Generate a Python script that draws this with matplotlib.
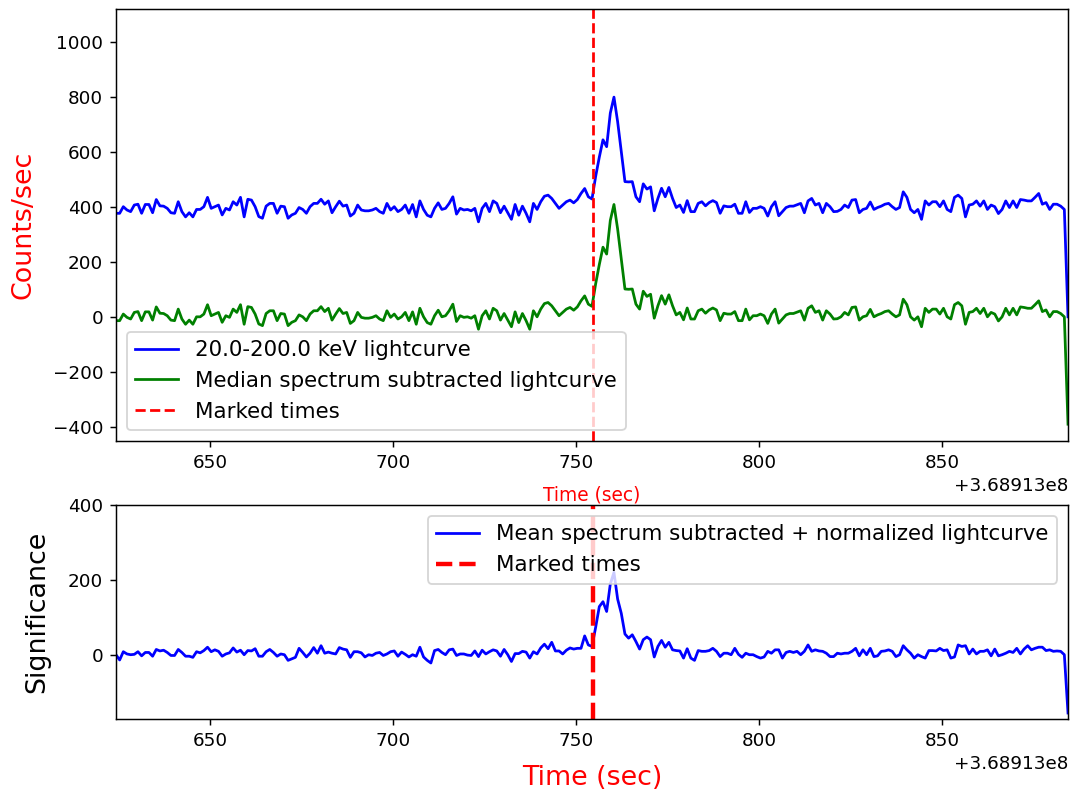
import numpy as np
import matplotlib
matplotlib.use('Agg')
import matplotlib.pyplot as plt

# Time axis: 1 s bins, absolute spacecraft time
t_start = 368913624.3
marked_time = 368913754.7

# 20.0-200.0 keV lightcurve (counts/sec)
lightcurve = [
    376, 376, 400, 388, 382, 406, 409, 376, 408, 408,
    378, 426, 403, 402, 394, 378, 376, 418, 382, 363,
    378, 363, 390, 390, 400, 434, 394, 400, 406, 370,
    394, 388, 418, 406, 434, 363, 427, 424, 400, 364,
    358, 402, 412, 412, 376, 402, 400, 358, 370, 376,
    397, 390, 376, 400, 412, 412, 427, 409, 421, 378,
    400, 420, 402, 406, 366,
    376, 406, 388, 385, 385, 388, 394, 382, 376, 412,
    388, 400, 382, 390, 406, 376, 408, 363, 421, 390,
    369, 363, 394, 414, 390, 394, 412, 436, 373, 394,
    388, 390, 385, 394, 345, 394, 412, 382, 421, 412,
    378, 402, 378, 354, 408, 369, 402, 376, 345, 412,
    390, 418, 438, 442, 430, 412, 394, 406, 418, 424,
    414, 426, 448, 466, 436, 428,
    510, 580, 643, 618, 740, 798, 709, 600, 491, 490,
    491, 436, 418, 483, 464, 472, 385, 430, 467, 436,
    470, 430, 397, 406, 379, 422, 382, 382, 412, 418,
    403, 415, 422, 415, 376, 403, 400, 400, 409, 376,
    376, 418, 379, 394, 394, 400, 394, 366, 400,
    418, 367, 382, 397, 402, 402, 407, 412, 378, 421,
    430, 406, 412, 378, 412, 400, 382, 383, 390, 406,
    397, 424, 426, 378, 390, 394, 417, 390, 397, 402,
    409, 412, 400, 390, 397, 454, 434, 390, 378, 390,
    354, 421, 406, 418, 418, 400, 421, 390, 382, 434,
    442, 430, 363, 406, 409, 421, 402, 421, 390, 406,
    400, 375, 390, 421, 397, 421, 397, 426, 424, 421,
    421, 434, 448, 409, 415, 390, 409, 409, 402, 390,
    0,
]

# Median spectrum subtracted lightcurve (counts/sec)
median_sub = [
    -14, -14, 10, -2, -8, 16, 19, -14, 18, 18,
    -12, 36, 13, 12, 4, -12, -14, 28, -8, -27,
    -12, -27, 0, 0, 10, 44, 4, 10, 16, -20,
    4, -2, 28, 16, 44, -27, 37, 34, 10, -26,
    -32, 12, 22, 22, -14, 12, 10, -32, -20, -14,
    7, 0, -14, 10, 22, 22, 37, 19, 31, -12,
    10, 30, 12, 16, -24,
    -14, 16, -2, -5, -5, -2, 4, -8, -14, 22,
    -2, 10, -8, 0, 16, -14, 18, -27, 31, 0,
    -21, -27, 4, 24, 0, 4, 22, 46, -17, 4,
    -2, 0, -5, 4, -45, 4, 22, -8, 31, 22,
    -12, 12, -12, -36, 18, -21, 12, -14, -45, 22,
    0, 28, 48, 52, 40, 22, 4, 16, 28, 34,
    24, 36, 58, 76, 46, 38,
    120, 190, 253, 228, 350, 408, 319, 210, 101, 100,
    101, 46, 28, 93, 74, 82, -5, 40, 77, 46,
    80, 40, 7, 16, -11, 32, -8, -8, 22, 28,
    13, 25, 32, 25, -14, 13, 10, 10, 19, -14,
    -14, 28, -11, 4, 4, 10, 4, -24, 10,
    28, -23, -8, 7, 12, 12, 17, 22, -12, 31,
    40, 16, 22, -12, 22, 10, -8, -7, 0, 16,
    7, 34, 36, -12, 0, 4, 27, 0, 7, 12,
    19, 22, 10, 0, 7, 64, 44, 0, -12, 0,
    -36, 31, 16, 28, 28, 10, 31, 0, -8, 44,
    52, 40, -27, 16, 19, 31, 12, 31, 0, 16,
    10, -15, 0, 31, 7, 31, 7, 36, 34, 31,
    31, 44, 58, 19, 25, 0, 19, 19, 12, 0,
    -390,
]

# Mean spectrum subtracted + normalized lightcurve (significance)
significance = [
    2, -12, 10, 4, 2, 3, 10, -1, 8, 8,
    -2, 16, 12, 14, 8, 0, 0, 16, 8, -2,
    -2, -5, 10, 7, 13, 22, 10, 15, 11, -2,
    4, 7, 20, 9, 14, 2, 13, 12, 18, -2,
    -2, 10, 16, 8, -2, 4, 2, -13, -9, -5,
    19, 8, -4, 6, 21, 6, 26, 6, 9, 6,
    4, 21, 17, 15, -5, 10, 10, 7, -4, 2,
    0, 6, 8, 0, 4, 10, 12, -2, 9, 3,
    -4, 2, -2, 22, -4, -13, -20, 13, 16, 8,
    2, 15, 17, 0, 4, 4, 1, 0, 12, -3,
    14, 4, 10, 15, 12, -2, 16, 2, -16, 5,
    5, 11, 9, -7, 10, 4, 20, 30, 18, 35,
    12, 12, 4, 14, 20, 17, 19, 19, 52, 28,
    24,
    75, 130, 143, 117, 190, 221, 150, 112, 57, 46,
    55, 37, 17, 42, 49, 42, -4, 24, 40, 22,
    35, 15, 13, 12, -7, 18, -7, -13, 13, 11,
    11, 13, 19, 11, -3, 6, 6, 2, 19, 3,
    -5, 6, 2, 2, -3, -7, -4, 11, 6, 15,
    15, -7, 8, 11, 8, 11, 2, 11, 28, 11,
    15, 12, 11, 6, -3, -3, 6, 4, 6, 6,
    11, 19, -1, 15, 2, 19, -3, -1, 11, 12,
    15, 11, -3, 2, 26, 15, 6, -7, 2, -3,
    -7, 13, 13, 12, 19, 13, 15, -7, -4, 28,
    24, 26, 4, 17, 4, 11, 11, 15, -1, 17,
    -1, 2, 6, 11, 8, 19, 4, 17, 26, 15,
    19, 22, 22, 13, 15, 11, 12, 11, 2, -153,
]

times = t_start + np.arange(len(lightcurve))

dpi = 132
fig = plt.figure(figsize=(1071 / dpi, 791 / dpi), dpi=dpi)

# Top panel: raw and median subtracted lightcurves
ax1 = fig.add_axes([0.1083, 0.4425, 0.8889, 0.5461])
ax1.plot(times, lightcurve, color='blue', lw=1.5, label='20.0-200.0 keV lightcurve')
ax1.plot(times, median_sub, color='green', lw=1.5, label='Median spectrum subtracted lightcurve')
ax1.axvline(marked_time, color='red', ls='--', lw=1.5, label='Marked times')
ax1.set_xlim(times[0], times[-1])
ax1.set_ylim(-451, 1118)
ax1.set_yticks(np.arange(-400, 1001, 200))
ax1.set_ylabel('Counts/sec', color='red', fontsize=14.7, labelpad=9)
ax1.set_xlabel('Time (sec)', color='red', fontsize=10.2, labelpad=7.5)
ax1.legend(loc='lower left', fontsize=11.7)

# Bottom panel: significance
ax2 = fig.add_axes([0.1083, 0.0910, 0.8889, 0.2705])
ax2.plot(times, significance, color='blue', lw=1.5,
         label='Mean spectrum subtracted + normalized lightcurve')
ax2.axvline(marked_time, color='red', ls='--', lw=2.4, label='Marked times')
ax2.set_xlim(times[0], times[-1])
ax2.set_ylim(-169, 400)
ax2.set_yticks([0, 200, 400])
ax2.set_ylabel('Significance', fontsize=14.7, labelpad=9.5)
ax2.set_xlabel('Time (sec)', color='red', fontsize=14.7, labelpad=8)
ax2.legend(loc='upper right', fontsize=11.7)

plt.savefig('out.png', dpi=dpi)
